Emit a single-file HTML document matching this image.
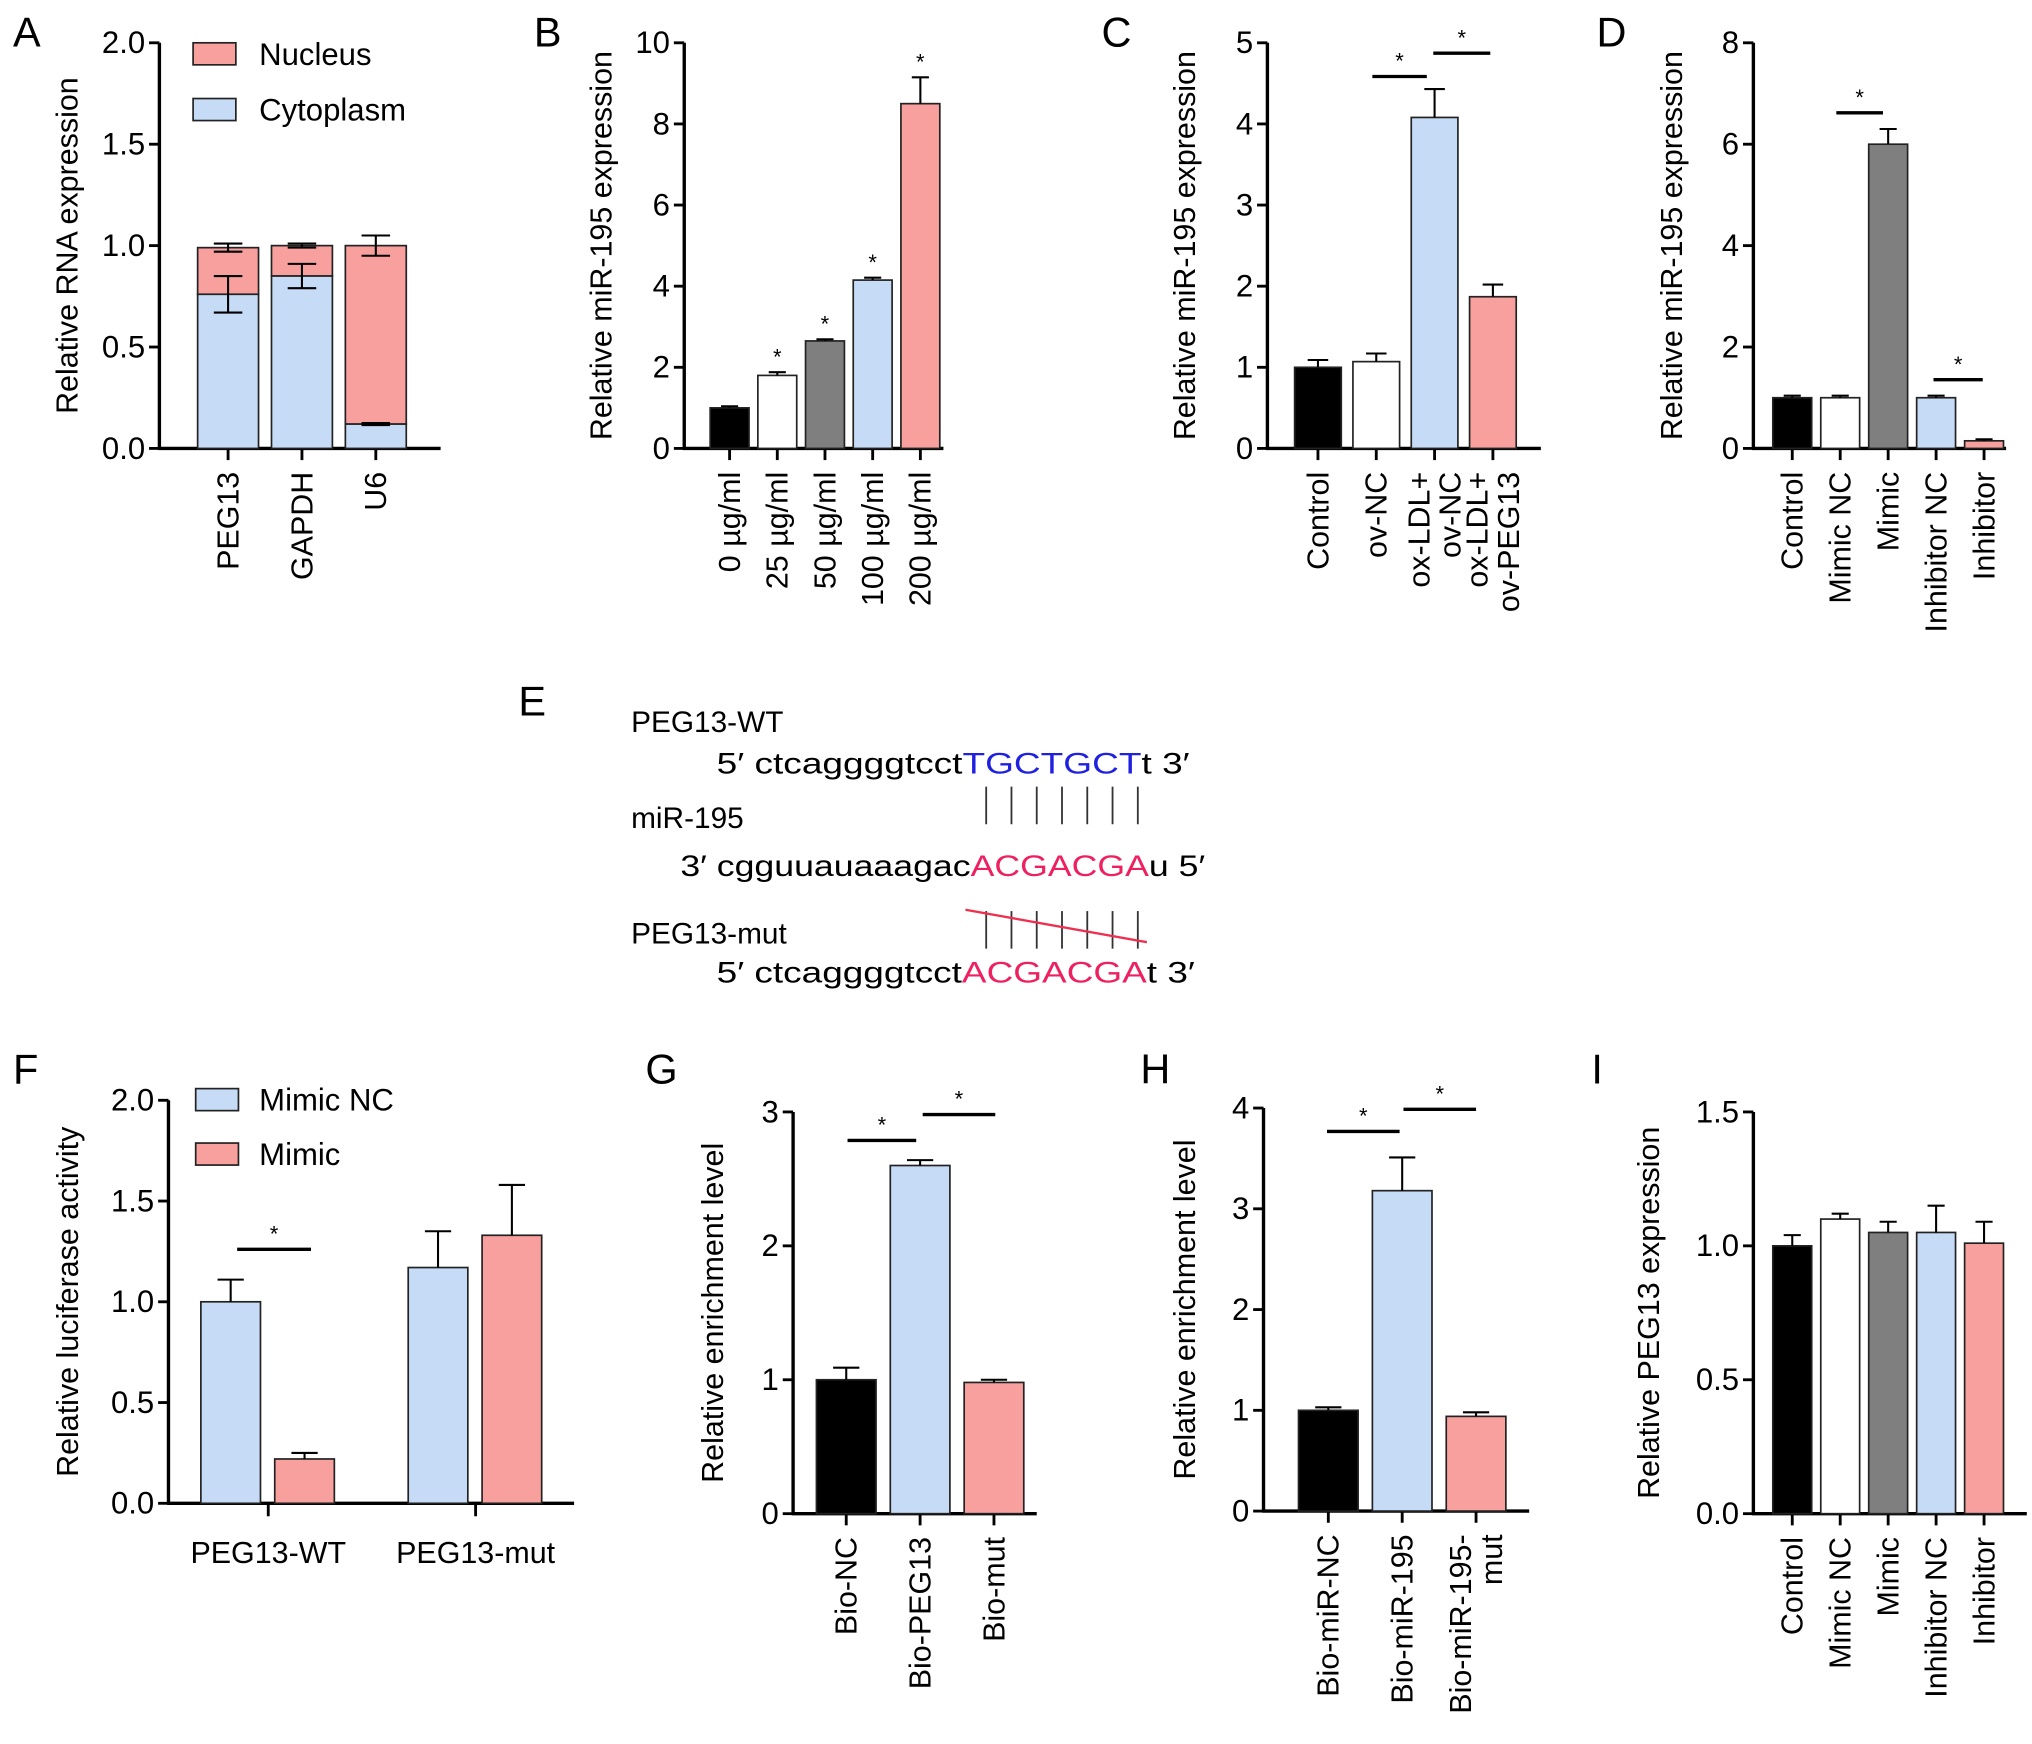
<!DOCTYPE html>
<html><head><meta charset="utf-8"><style>
html,body{margin:0;padding:0;background:#fff;}
svg{display:block;font-family:"Liberation Sans",Arial,sans-serif;}
</style></head><body>
<svg id="fig" width="2032" height="1744" viewBox="0 0 1568 1345.7" xmlns="http://www.w3.org/2000/svg">
<rect width="1568" height="1346" fill="#fff"/>
<g font-size="32" fill="#000">
<text x="10" y="36">A</text>
<text x="412" y="36">B</text>
<text x="850" y="36">C</text>
<text x="1232" y="36">D</text>
<text x="400" y="552">E</text>
<text x="10" y="836">F</text>
<text x="498" y="836">G</text>
<text x="880" y="836">H</text>
<text x="1228" y="836">I</text>
</g>
<g id="panelE" font-size="23">
<text x="487" y="565">PEG13-WT</text>
<text x="553" y="597" textLength="365" lengthAdjust="spacingAndGlyphs">5′ ctcaggggtcct<tspan fill="#2020e0">TGCTGCT</tspan>t 3′</text>
<text x="487" y="639">miR-195</text>
<text x="525" y="676" textLength="405" lengthAdjust="spacingAndGlyphs">3′ cgguuauaaagac<tspan fill="#ee2060">ACGACGA</tspan>u 5′</text>
<text x="487" y="728">PEG13-mut</text>
<text x="553" y="758" textLength="369" lengthAdjust="spacingAndGlyphs">5′ ctcaggggtcct<tspan fill="#ee2060">ACGACGA</tspan>t 3′</text>
<g id="pairs" stroke="#333" stroke-width="1.4"></g>
<line x1="745" y1="702" x2="885" y2="727" stroke="#ee3050" stroke-width="1.8"/>
</g>
<g id="axes"></g>
</svg>
<script>
// ---- Panel A data ----
const aCats = ["PEG13", "GAPDH", "U6"];
const aCyto = [0.76, 0.85, 0.12];
const aCytoErr = [0.09, 0.06, 0.005];
const aTotal = [0.99, 1.0, 1.0];
const aTotalErr = [0.02, 0.01, 0.05];
const aTicks = ["0.0", "0.5", "1.0", "1.5", "2.0"];
// ---- Panel B ----
const bCats = ["0 µg/ml", "25 µg/ml", "50 µg/ml", "100 µg/ml", "200 µg/ml"];
const bValues = [1.0, 1.8, 2.65, 4.15, 8.5];
const bErrors = [0.04, 0.08, 0.04, 0.06, 0.65];
const bStars = [false, true, true, true, true];
const bTicks = ["0", "2", "4", "6", "8", "10"];
// ---- Panel C ----
const cCats = [["Control"], ["ov-NC"], ["ox-LDL+", "ov-NC"], ["ox-LDL+", "ov-PEG13"]];
const cValues = [1.0, 1.07, 4.08, 1.87];
const cErrors = [0.09, 0.1, 0.35, 0.15];
const cTicks = ["0", "1", "2", "3", "4", "5"];
// ---- Panel D ----
const dCats = ["Control", "Mimic NC", "Mimic", "Inhibitor NC", "Inhibitor"];
const dValues = [1.0, 1.0, 6.0, 1.0, 0.15];
const dErrors = [0.04, 0.04, 0.3, 0.04, 0.03];
const dTicks = ["0", "2", "4", "6", "8"];
// ---- Panel F ----
const fGroups = ["PEG13-WT", "PEG13-mut"];
const fMimicNC = [1.0, 1.17];
const fMimicNCErr = [0.11, 0.18];
const fMimic = [0.22, 1.33];
const fMimicErr = [0.03, 0.25];
const fTicks = ["0.0", "0.5", "1.0", "1.5", "2.0"];
// ---- Panel G ----
const gCats = [["Bio-NC"], ["Bio-PEG13"], ["Bio-mut"]];
const gValues = [1.0, 2.6, 0.98];
const gErrors = [0.09, 0.04, 0.02];
const gTicks = ["0", "1", "2", "3"];
// ---- Panel H ----
const hCats = [["Bio-miR-NC"], ["Bio-miR-195"], ["Bio-miR-195-", "mut"]];
const hValues = [1.0, 3.18, 0.94];
const hErrors = [0.03, 0.33, 0.04];
const hTicks = ["0", "1", "2", "3", "4"];
// ---- Panel I ----
const iCats = ["Control", "Mimic NC", "Mimic", "Inhibitor NC", "Inhibitor"];
const iValues = [1.0, 1.1, 1.05, 1.05, 1.01];
const iErrors = [0.04, 0.02, 0.04, 0.1, 0.08];
const iTicks = ["0.0", "0.5", "1.0", "1.5"];

const NS = "http://www.w3.org/2000/svg";
const root = document.getElementById("axes");
const BLACK="#000", WHITE="#fff", GRAY="#7f7f7f", BLUE="#c6dbf5", PINK="#f7a09e";
function mk(tag, attrs, parent){const e=document.createElementNS(NS,tag);for(const k in attrs)e.setAttribute(k,attrs[k]);(parent||root).appendChild(e);return e;}
function line(x1,y1,x2,y2,w,p){return mk("line",{x1,y1,x2,y2,stroke:"#000","stroke-width":w||1.3},p);}

// base-pair lines
const pairs=document.getElementById("pairs");
for(let k=0;k<7;k++){const x=761+k*19.5;
  mk("line",{x1:x,y1:607,x2:x,y2:636},pairs);
  mk("line",{x1:x,y1:703,x2:x,y2:732},pairs);
}

function axis(p){
  const g=mk("g",{});
  
  
  const ys=v=>p.y0-(v/p.max)*(p.y0-p.y1);
  line(p.x,p.y0+1,p.x,p.y1,2.6,g);
  line(p.x-1,p.y0,p.xEnd,p.y0,2.6,g);
  p.ticks.forEach(t=>{const v=parseFloat(t);const y=ys(v);
    line(p.x-8,y,p.x,y,2.2,g);
    const tx=mk("text",{x:p.x-11,y:y+8,"text-anchor":"end","font-size":24},g);tx.textContent=t;
    
    
  });
  const ty=(p.y0+p.y1)/2+(p.titleDy||0);
  const tt=mk("text",{x:p.titleX,y:ty,"text-anchor":"middle","font-size":23.5,transform:`rotate(-90 ${p.titleX} ${ty})`},g);
  tt.textContent=p.title;
  
  
  return ys;
}
function catLabel(cx,y0,lines,g){
  const n=lines.length;
  lines.forEach((s,i)=>{const x=cx+(i-(n-1)/2)*24+8;
    const t=mk("text",{x:x,y:y0+18,"text-anchor":"end","font-size":23.5,transform:`rotate(-90 ${x} ${y0+18})`},g);t.textContent=s;
    
    
  });
  line(cx,y0,cx,y0+9,2.2,g);
}
function bar(cx,w,ys,y0,v,err,fill,name){
  const g=mk("g",{});
  
  
  const y=ys(v);
  mk("rect",{x:cx-w/2,y:y,width:w,height:y0-y,fill:fill,stroke:"#222","stroke-width":1.3},g);
  const ye=ys(v+err);
  line(cx,y,cx,ye,1.6,g);line(cx-w*0.22,ye,cx+w*0.22,ye,1.6,g);
  return {g,y,ye};
}
function star(x,y){const t=mk("text",{x:x,y:y,"text-anchor":"middle","font-size":17});t.textContent="*";
  
  }
function sig(x1,x2,y){const l=line(x1,y,x2,y,2.6);star((x1+x2)/2,y-6);}

// ---- Panel A ----
(function(){
  const p={x:123,y0:346,y1:33,max:2,ticks:aTicks,xEnd:340,title:"Relative RNA expression",titleX:60,name:"panel-a"};
  const ys=axis(p);const g=mk("g",{});
  const xs=i=>176+i*57;
  aCats.forEach((c,i)=>{const cx=xs(i),w=47;
    const yt=ys(aTotal[i]),yc=ys(aCyto[i]);
    const r1=mk("rect",{x:cx-w/2,y:yt,width:w,height:yc-yt,fill:PINK,stroke:"#222","stroke-width":1.3});
    
    
    const r2=mk("rect",{x:cx-w/2,y:yc,width:w,height:346-yc,fill:BLUE,stroke:"#222","stroke-width":1.3});
    
    
    [[aTotal[i],aTotalErr[i]],[aCyto[i],aCytoErr[i]]].forEach(([v,e])=>{
      const a=ys(v+e),b=ys(v-e);line(cx,a,cx,b,1.6);line(cx-11,a,cx+11,a,1.6);line(cx-11,b,cx+11,b,1.6);});
    catLabel(cx,346,[c],g);
  });
  [["Nucleus",PINK,33],["Cytoplasm",BLUE,76]].forEach(([t,c,y])=>{
    const lg=mk("g",{});
    
    
    mk("rect",{x:149,y:y,width:33,height:17,fill:c,stroke:"#222","stroke-width":1.3},lg);
    const tx=mk("text",{x:200,y:y+17,"font-size":24},lg);tx.textContent=t;});
})();
// ---- Panel B ----
(function(){
  const p={x:528,y0:346,y1:33,max:10,ticks:bTicks,xEnd:728,title:"Relative miR-195 expression",titleX:472,name:"panel-b"};
  const ys=axis(p);const g=mk("g",{});const cols=[BLACK,WHITE,GRAY,BLUE,PINK];
  bCats.forEach((c,i)=>{const cx=563+i*36.8;const b=bar(cx,30,ys,346,bValues[i],bErrors[i],cols[i],"bar-"+c.replace(/\W+/g,''));
    if(bStars[i])star(cx,b.ye-6);catLabel(cx,346,[c],g);});
})();
// ---- Panel C ----
(function(){
  const p={x:978,y0:346,y1:33,max:5,ticks:cTicks,xEnd:1189,title:"Relative miR-195 expression",titleX:922,name:"panel-c"};
  const ys=axis(p);const g=mk("g",{});const cols=[BLACK,WHITE,BLUE,PINK];
  cCats.forEach((c,i)=>{const cx=1017+i*45;bar(cx,36,ys,346,cValues[i],cErrors[i],cols[i],"bar-"+c.join('-'));catLabel(cx,346,c,g);});
  sig(1059,1101,59);sig(1106,1150,41);
})();
// ---- Panel D ----
(function(){
  const p={x:1353,y0:346,y1:33,max:8,ticks:dTicks,xEnd:1548,title:"Relative miR-195 expression",titleX:1298,name:"panel-d"};
  const ys=axis(p);const g=mk("g",{});const cols=[BLACK,WHITE,GRAY,BLUE,PINK];
  dCats.forEach((c,i)=>{const cx=1383+i*37;bar(cx,30,ys,346,dValues[i],dErrors[i],cols[i],"bar-"+c);catLabel(cx,346,[c],g);});
  sig(1417,1453,87);sig(1492,1530,293);
})();
// ---- Panel F ----
(function(){
  const p={x:130,y0:1160,y1:849,max:2,ticks:fTicks,xEnd:443,title:"Relative luciferase activity",titleX:60,name:"panel-f"};
  const ys=axis(p);
  fGroups.forEach((gname,i)=>{const gc=207+i*160;
    bar(gc-29,46,ys,1160,fMimicNC[i],fMimicNCErr[i],BLUE,"bar-mimic-nc-"+gname);
    bar(gc+28,46,ys,1160,fMimic[i],fMimicErr[i],PINK,"bar-mimic-"+gname);
    line(gc,1160,gc,1170,2.2);
    const t=mk("text",{x:gc,y:1206,"text-anchor":"middle","font-size":23.5});t.textContent=gname;
    
    
  });
  sig(183,240,964);
  [["Mimic NC",BLUE,840],["Mimic",PINK,882]].forEach(([t,c,y])=>{
    const lg=mk("g",{});
    
    
    mk("rect",{x:151,y:y,width:33,height:17,fill:c,stroke:"#222","stroke-width":1.3},lg);
    const tx=mk("text",{x:200,y:y+17,"font-size":24},lg);tx.textContent=t;});
})();
// ---- Panel G ----
(function(){
  const p={x:612,y0:1168,y1:858,max:3,ticks:gTicks,xEnd:800,title:"Relative enrichment level",titleX:558,name:"panel-g"};
  const ys=axis(p);const g=mk("g",{});const cols=[BLACK,BLUE,PINK];
  gCats.forEach((c,i)=>{const cx=653+i*57;bar(cx,46,ys,1168,gValues[i],gErrors[i],cols[i],"bar-"+c.join(''));catLabel(cx,1168,c,g);});
  sig(654,707,880);sig(712,768,860);
})();
// ---- Panel H ----
(function(){
  const p={x:975,y0:1166,y1:855,max:4,ticks:hTicks,xEnd:1180,title:"Relative enrichment level",titleX:922,name:"panel-h"};
  const ys=axis(p);const g=mk("g",{});const cols=[BLACK,BLUE,PINK];
  hCats.forEach((c,i)=>{const cx=1025+i*57;bar(cx,46,ys,1166,hValues[i],hErrors[i],cols[i],"bar-"+c.join(''));catLabel(cx,1166,c,g);});
  sig(1024,1080,873);sig(1083,1139,856);
})();
// ---- Panel I ----
(function(){
  const p={x:1353,y0:1168,y1:858,max:1.5,ticks:iTicks,xEnd:1564,title:"Relative PEG13 expression",titleX:1280,name:"panel-i"};
  const ys=axis(p);const g=mk("g",{});const cols=[BLACK,WHITE,GRAY,BLUE,PINK];
  iCats.forEach((c,i)=>{const cx=1383+i*37;bar(cx,30,ys,1168,iValues[i],iErrors[i],cols[i],"bar-i-"+c);catLabel(cx,1168,[c],g);});
})();
</script>
</body></html>
